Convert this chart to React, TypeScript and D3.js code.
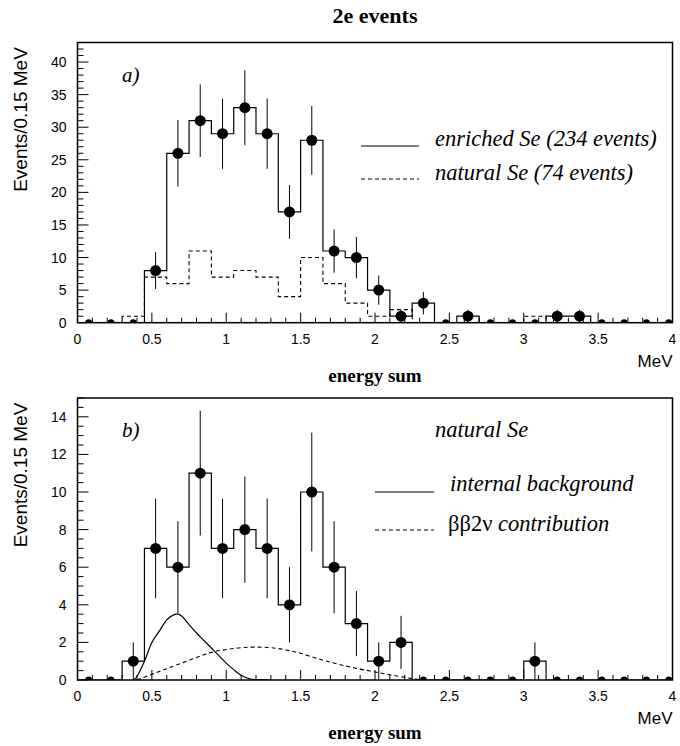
import React from "react";
import * as d3 from "d3";

const binEdgesStart = 0;
const binWidth = 0.15;
const enrichedA = [0, 0, 0, 8, 26, 31, 29, 33, 29, 17, 28, 11, 10, 5, 1, 3, 0, 1, 0, 0, 0, 1, 1, 0, 0, 0, 0];
const naturalA = [0, 0, 1, 7, 6, 11, 7, 8, 7, 4, 10, 6, 3, 1, 2, 0, 0, 0, 0, 0, 1, 0, 0, 0, 0, 0, 0];
const naturalB = naturalA;

const bgE = [0.38, 0.4, 0.45, 0.5, 0.55, 0.6, 0.65, 0.675, 0.7, 0.75, 0.8, 0.85, 0.9, 0.95, 1.0, 1.05, 1.1, 1.15, 1.2, 1.3];
const bgV = [0, 0.2, 1.0, 2.0, 2.6, 3.2, 3.48, 3.52, 3.4, 2.95, 2.5, 2.1, 1.7, 1.3, 0.9, 0.55, 0.25, 0.08, 0.02, 0];
const bbE = [0.4, 0.5, 0.6, 0.7, 0.8, 0.9, 1.0, 1.1, 1.2, 1.3, 1.4, 1.5, 1.6, 1.7, 1.8, 1.9, 2.0, 2.1, 2.2, 2.3, 2.35];
const bbV = [0, 0.3, 0.6, 0.9, 1.2, 1.47, 1.62, 1.72, 1.75, 1.72, 1.6, 1.42, 1.17, 0.95, 0.75, 0.58, 0.43, 0.28, 0.14, 0.02, 0];

const xTickLabels = ["0", "0.5", "1", "1.5", "2", "2.5", "3", "3.5", "4"];

const SERIF = "'Liberation Serif', 'Times New Roman', serif";
const SANS = "'Liberation Sans', Arial, sans-serif";

const X0 = 77.5, X1 = 672.5;
const LEG = 22.5;

function histPath(vals: number[], x: any, y: any) {
  let d = `M${x(binEdgesStart)},${y(0)}`;
  vals.forEach((v, i) => {
    const a = binEdgesStart + i * binWidth;
    const b = a + binWidth;
    d += `L${x(a)},${y(v)}L${x(b)},${y(v)}`;
  });
  d += `L${x(binEdgesStart + vals.length * binWidth)},${y(0)}`;
  return d;
}

function Panel({ id, top, bottom, ymax, yMinor, yMajor, main, dashed, children }: any) {
  const x = d3.scaleLinear().domain([0, 4]).range([X0, X1]);
  const y = d3.scaleLinear().domain([0, ymax]).range([bottom, top]);
  const xMinor = d3.range(0, 41).map((i) => i / 10);
  const yTicks = d3.range(0, Math.floor(ymax / yMinor + 1e-6) + 1).map((i) => i * yMinor);
  const isMajorY = (v: number) => Math.abs(v / yMajor - Math.round(v / yMajor)) < 1e-6;
  return (
    <g>
      <defs>
        <clipPath id={`clip-${id}`}>
          <rect x={X0} y={top} width={X1 - X0} height={bottom - top} />
        </clipPath>
      </defs>
      <g clipPath={`url(#clip-${id})`}>
        {dashed && (
          <path d={histPath(dashed, x, y)} fill="none" stroke="#000" strokeWidth={1.1} strokeDasharray="4,3" />
        )}
        <path d={histPath(main, x, y)} fill="none" stroke="#000" strokeWidth={1.2} />
        {children && children(x, y)}
        {main.map((v: number, i: number) => {
          const cx = x(binEdgesStart + (i + 0.5) * binWidth);
          if (v === 0) {
            return <circle key={i} cx={cx} cy={y(0)} r={3.5} fill="#000" />;
          }
          const e = Math.sqrt(v);
          return (
            <g key={i}>
              <line x1={cx} x2={cx} y1={y(v - e)} y2={y(v + e)} stroke="#000" strokeWidth={1} />
              <circle cx={cx} cy={y(v)} r={5.5} fill="#000" />
            </g>
          );
        })}
      </g>
      {xMinor.map((v, i) => {
        const major = i % 5 === 0;
        return (
          <line key={"xt" + i} x1={x(v)} x2={x(v)} y1={bottom} y2={bottom - (major ? 10 : 5)} stroke="#000" strokeWidth={1} />
        );
      })}
      {yTicks.map((v, i) => (
        <line key={"yt" + i} x1={X0} x2={X0 + (isMajorY(v) ? 11 : 6)} y1={y(v)} y2={y(v)} stroke="#000" strokeWidth={1} />
      ))}
      <rect x={X0} y={top} width={X1 - X0} height={bottom - top} fill="none" stroke="#000" strokeWidth={1.5} />
      {xTickLabels.map((t, i) => (
        <text key={"xl" + i} x={x(i * 0.5)} y={bottom + 21} textAnchor="middle" fontFamily={SANS} fontSize={14}>
          {t}
        </text>
      ))}
      {yTicks.filter(isMajorY).map((v, i) => (
        <text key={"yl" + i} x={X0 - 11} y={y(v) + 5} textAnchor="end" fontFamily={SANS} fontSize={14}>
          {String(v)}
        </text>
      ))}
      <text x={X1} y={bottom + 44} textAnchor="end" fontFamily={SANS} fontSize={17}>MeV</text>
      <text x={375} y={bottom + 59} textAnchor="middle" fontFamily={SERIF} fontWeight="bold" fontSize={19}>energy sum</text>
      <text transform={`translate(27,${top + 77}) rotate(-90)`} textAnchor="middle" fontFamily={SANS} fontSize={19}>
        Events/0.15 MeV
      </text>
    </g>
  );
}

export default function App() {
  const line = (x: any, y: any) => d3.line<number>().x((_, i) => x(bgE[i])).y((d) => y(d)).curve(d3.curveMonotoneX);
  const line2 = (x: any, y: any) => d3.line<number>().x((_, i) => x(bbE[i])).y((d) => y(d)).curve(d3.curveMonotoneX);
  return (
    <svg width={680} height={746} style={{ position: "absolute", left: 0, top: 0, background: "#fff" }}>
      <rect width={680} height={746} fill="#fff" />
      <text x={375} y={23} textAnchor="middle" fontFamily={SERIF} fontWeight="bold" fontSize={22}>2e events</text>

      <Panel id="a" top={42.5} bottom={322.7} ymax={43} yMinor={1} yMajor={5} main={enrichedA} dashed={naturalA} />
      <text x={122} y={82} fontFamily={SERIF} fontStyle="italic" fontSize={21}>a)</text>
      <line x1={361} x2={419} y1={146} y2={146} stroke="#000" strokeWidth={1.2} />
      <text x={435} y={146} fontFamily={SERIF} fontStyle="italic" fontSize={LEG}>enriched Se (234 events)</text>
      <line x1={361} x2={419} y1={179} y2={179} stroke="#000" strokeWidth={1.1} strokeDasharray="4,3" />
      <text x={435} y={180} fontFamily={SERIF} fontStyle="italic" fontSize={LEG}>natural Se (74 events)</text>

      <Panel id="b" top={398} bottom={680} ymax={15} yMinor={0.5} yMajor={2} main={naturalB}>
        {(x: any, y: any) => (
          <g>
            <path d={line(x, y)(bgV) || ""} fill="none" stroke="#000" strokeWidth={1.2} />
            <path d={line2(x, y)(bbV) || ""} fill="none" stroke="#000" strokeWidth={1.1} strokeDasharray="4,3" />
          </g>
        )}
      </Panel>
      <text x={122} y={437} fontFamily={SERIF} fontStyle="italic" fontSize={21}>b)</text>
      <text x={435} y={437} fontFamily={SERIF} fontStyle="italic" fontSize={LEG}>natural Se</text>
      <line x1={375} x2={434} y1={492} y2={492} stroke="#000" strokeWidth={1.2} />
      <text x={450} y={491} fontFamily={SERIF} fontStyle="italic" fontSize={LEG}>internal background</text>
      <line x1={375} x2={434} y1={530} y2={530} stroke="#000" strokeWidth={1.1} strokeDasharray="4,3" />
      <text x={448} y={531} fontFamily={SERIF} fontSize={LEG}>
        <tspan>ββ2ν </tspan>
        <tspan fontStyle="italic">contribution</tspan>
      </text>
    </svg>
  );
}
